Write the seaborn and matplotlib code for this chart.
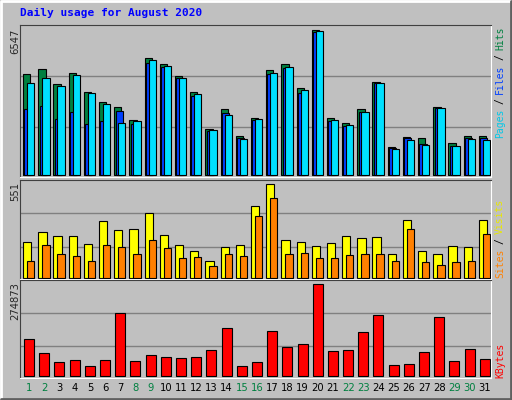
import matplotlib
matplotlib.use("Agg")
import matplotlib.pyplot as plt
import seaborn as sns
import numpy as np

sns.set_style("white")
plt.rcParams['font.family'] = ['DejaVu Sans Mono', 'DejaVu Sans']

days = list(range(1, 32))
weekend = [1, 2, 8, 9, 15, 16, 22, 23, 29, 30]
hits = [4553, 4776, 4092, 4598, 3750, 3303, 3065, 2500, 5253, 5000, 4449, 3750, 2098, 2976, 1771, 2589,
        4732, 5000, 3928, 6547, 2589, 2351, 2976, 4196, 1250, 1741, 1652, 3080, 1428, 1771, 1771]
files = [2976, 3125, 2544, 2857, 2321, 2455, 2902, 2321, 5059, 4881, 4360, 3571, 2009, 2797, 1652, 2500,
         4553, 4836, 3720, 6458, 2455, 2202, 2857, 4166, 1205, 1652, 1384, 3006, 1324, 1696, 1696]
pages = [4152, 4360, 4003, 4494, 3705, 3199, 2351, 2455, 5163, 4896, 4360, 3646, 2053, 2708, 1607, 2530,
         4598, 4866, 3824, 6503, 2485, 2262, 2842, 4137, 1190, 1592, 1369, 3021, 1324, 1637, 1592]
visits = [210, 270, 246, 246, 198, 330, 282, 288, 378, 252, 192, 156, 102, 180, 192, 420,
          551, 222, 210, 186, 204, 246, 234, 240, 138, 336, 156, 138, 186, 180, 336]
sites = [102, 192, 138, 126, 102, 192, 180, 138, 222, 174, 114, 120, 72, 138, 126, 360,
         468, 138, 144, 114, 114, 132, 138, 138, 102, 288, 96, 78, 96, 102, 258]
kbytes = [109000, 67000, 43000, 49000, 31000, 49000, 187000, 46000, 64000, 58000, 55000, 58000, 76000,
          142000, 31000, 43000, 133000, 85000, 94000, 274873, 73000, 76000, 130000, 181000, 34000,
          37000, 70000, 175000, 46000, 79000, 52000]

W, H = 512, 400
BG = "#C0C0C0"
fig = plt.figure(figsize=(W / 100, H / 100), dpi=100, facecolor=BG)

def ax_at(x0, y0, x1, y1):
    return fig.add_axes([x0 / W, 1 - y1 / H, (x1 - x0) / W, (y1 - y0) / H])

fig.add_artist(plt.Line2D([1 / W, 1 / W, 1 - 1 / W], [1 / H, 1 - 1 / H, 1 - 1 / H], color="white", lw=2, transform=fig.transFigure))
fig.add_artist(plt.Line2D([1 / W, 1 - 1 / W, 1 - 1 / W], [1 / H, 1 / H, 1 - 1 / H], color="#606060", lw=2, transform=fig.transFigure))

slot = 471 / 31
x0p = 20
xl = (-0.2, 30.8)
idx = np.arange(31)

def style(ax, ylim, grid):
    ax.set_facecolor(BG)
    ax.set_xlim(*xl)
    ax.set_ylim(*ylim)
    for g in grid:
        ax.axhline(g, color="#808080", lw=1, zorder=0)
    ax.set_xticks([]); ax.set_yticks([])
    ax.spines['top'].set_color('#404040'); ax.spines['left'].set_color('#404040')
    ax.spines['bottom'].set_color('white'); ax.spines['right'].set_color('white')

ax1 = ax_at(20, 25, 491, 177)
style(ax1, (-80, 6756), [4449, 2172])
bw = 7.3 / slot
ax1.bar(idx, hits, width=bw, align='edge', color="#008040", edgecolor="black", lw=0.8, zorder=2)
ax1.bar(idx + 1.3 / slot, files, width=bw, align='edge', color="#0040FF", edgecolor="black", lw=0.8, zorder=3)
ax1.bar(idx + 4 / slot, pages, width=bw, align='edge', color="#00E0FF", edgecolor="black", lw=0.8, zorder=4)

ax2 = ax_at(20, 180, 491, 279)
style(ax2, (-6, 572), [378, 182])
ax2.bar(idx, visits, width=8.3 / slot, align='edge', color="#FFFF00", edgecolor="black", lw=0.8, zorder=2)
ax2.bar(idx + 4 / slot, sites, width=7.3 / slot, align='edge', color="#FF8000", edgecolor="black", lw=0.8, zorder=3)

ax3 = ax_at(20, 280, 491, 378)
style(ax3, (-6000, 286000), [187000, 88000])
ax3.bar(idx + 1 / slot, kbytes, width=10 / slot, align='edge', color="#FF0000", edgecolor="black", lw=0.8, zorder=2)

for i, d in enumerate(days):
    xp = x0p + (i - xl[0] + 0.4) * slot
    fig.text(xp / W, 1 - 388 / H, str(d), ha='center', va='center', fontsize=7.2,
             family=['DejaVu Sans'], color="#008040" if d in weekend else "black")

fig.text(20 / W, 1 - 13 / H, "Daily usage for August 2020", color="#0000FF", fontsize=8,
         fontweight='bold', ha='left', va='center')

def left_label(txt, ytop):
    fig.text(15 / W, 1 - ytop / H, txt, rotation=90, ha='center', va='top', fontsize=7.2, family=['DejaVu Sans'])

left_label("6547", 29)
left_label("551", 182)
left_label("274873", 282)

def right_label(segs, ybot, cw=5.5):
    pos = 0
    for txt, col in segs:
        yc = ybot - (pos + len(txt) / 2) * cw
        if txt.strip():
            fig.text(500 / W, 1 - yc / H, txt.strip(), rotation=90, ha='center', va='center',
                     fontsize=7, color=col)
        pos += len(txt)

right_label([("Pages", "#00C8E8"), (" / ", "black"), ("Files", "#0040FF"), (" / ", "black"), ("Hits", "#008040")], 137)
right_label([("Sites", "#FF8000"), (" / ", "black"), ("Visits", "#E8E800")], 277)
right_label([("KBytes", "#FF0000")], 377)

fig.savefig("out.png", dpi=100, facecolor=BG)
